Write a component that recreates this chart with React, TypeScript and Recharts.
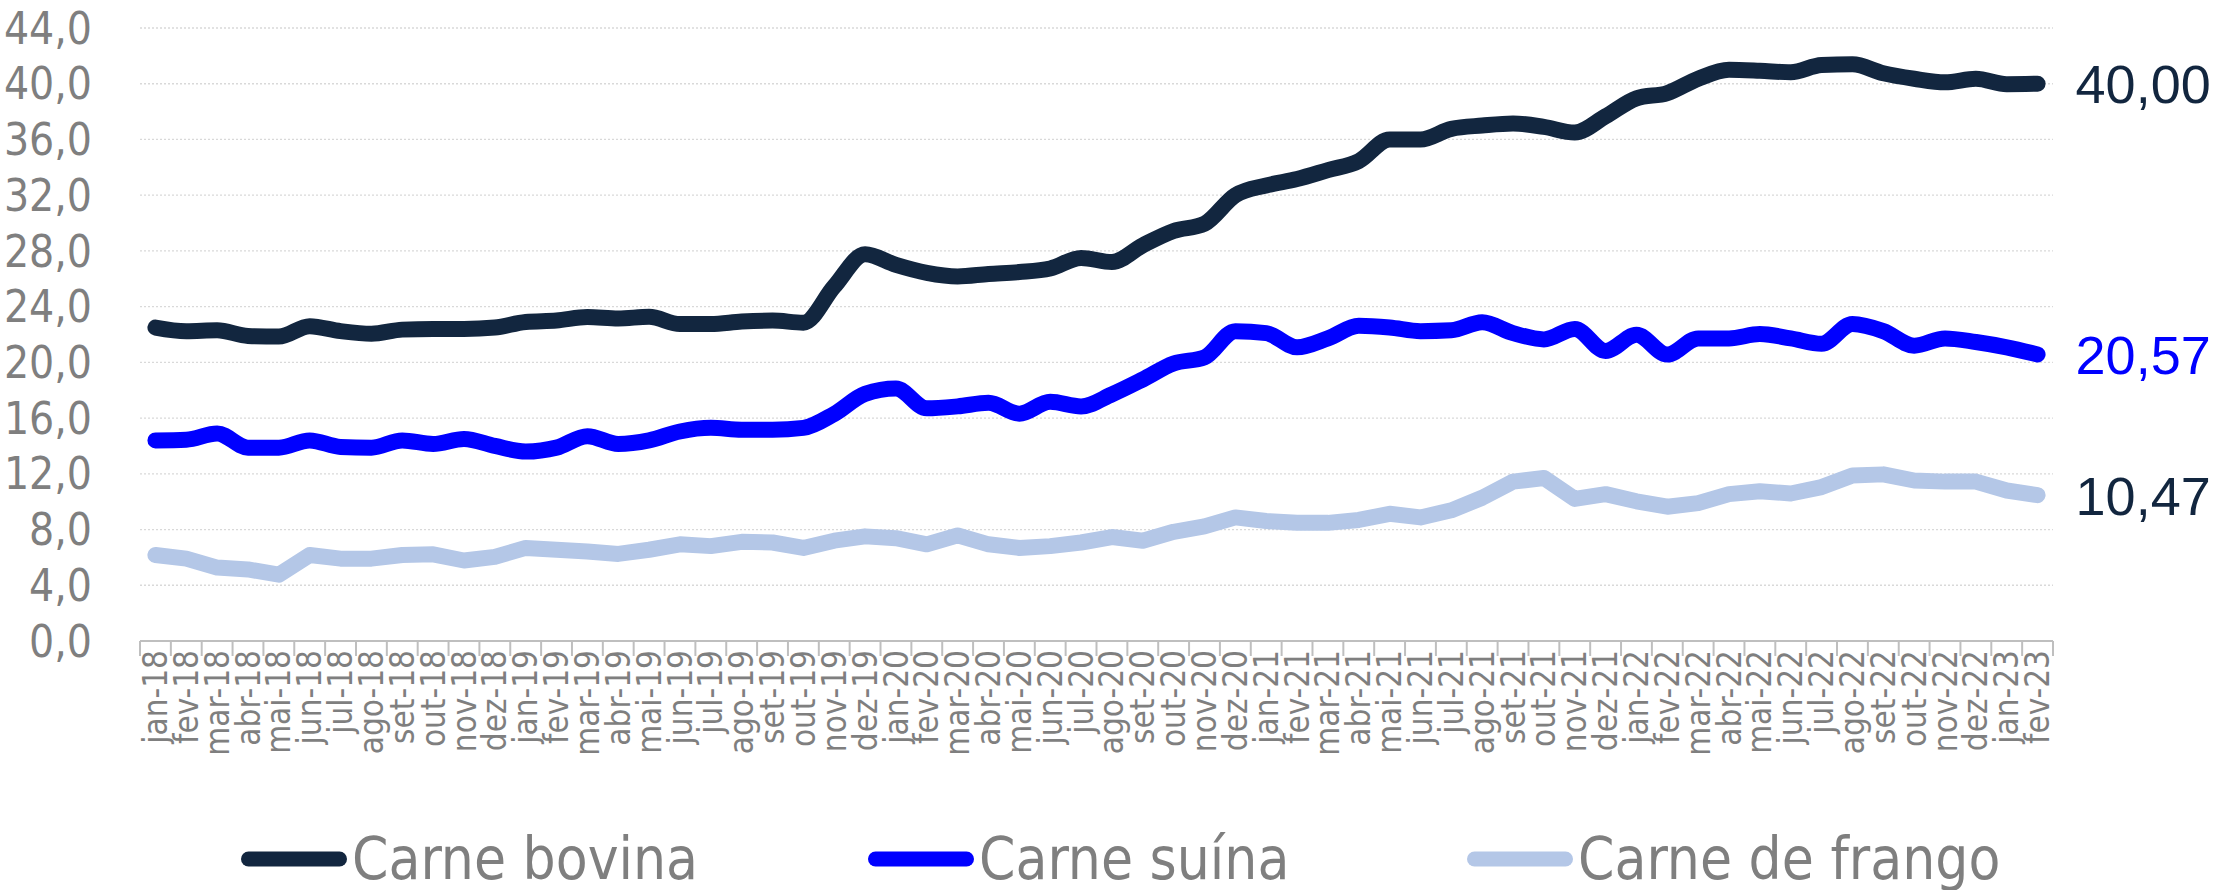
import React from 'react';
import { LineChart, Line, XAxis, YAxis, CartesianGrid, Legend, LabelList } from 'recharts';

const categories = [
  'jan-18','fev-18','mar-18','abr-18','mai-18','jun-18','jul-18','ago-18','set-18','out-18','nov-18','dez-18',
  'jan-19','fev-19','mar-19','abr-19','mai-19','jun-19','jul-19','ago-19','set-19','out-19','nov-19','dez-19',
  'jan-20','fev-20','mar-20','abr-20','mai-20','jun-20','jul-20','ago-20','set-20','out-20','nov-20','dez-20',
  'jan-21','fev-21','mar-21','abr-21','mai-21','jun-21','jul-21','ago-21','set-21','out-21','nov-21','dez-21',
  'jan-22','fev-22','mar-22','abr-22','mai-22','jun-22','jul-22','ago-22','set-22','out-22','nov-22','dez-22',
  'jan-23','fev-23',
];

const bovina = [
  22.5, 22.24, 22.3, 21.9, 21.85, 22.6, 22.24, 22.05, 22.35, 22.4, 22.4, 22.5,
  22.9, 23.0, 23.25, 23.15, 23.27, 22.75, 22.75, 22.93, 23.0, 22.85, 25.45, 27.76,
  27.0, 26.43, 26.17, 26.35, 26.48, 26.74, 27.5, 27.2, 28.4, 29.43, 29.95, 32.0,
  32.7, 33.16, 33.8, 34.45, 36.0, 36.0, 36.76, 37.0, 37.15, 36.9, 36.5, 37.66,
  38.95, 39.33, 40.36, 41.0, 40.93, 40.82, 41.34, 41.39, 40.75, 40.36, 40.1, 40.36,
  39.97, 40.0,
];

const suina = [
  14.4, 14.45, 14.9, 13.88, 13.88, 14.4, 13.93, 13.88, 14.4, 14.14, 14.5, 14.0,
  13.6, 13.88, 14.7, 14.14, 14.4, 15.04, 15.3, 15.17, 15.17, 15.3, 16.3, 17.74,
  18.12, 16.7, 16.84, 17.1, 16.32, 17.17, 16.84, 17.7, 18.77, 19.92, 20.36, 22.24,
  22.1, 21.08, 21.72, 22.62, 22.5, 22.24, 22.3, 22.88, 22.1, 21.65, 22.4, 20.82,
  21.98, 20.56, 21.72, 21.72, 22.03, 21.72, 21.34, 22.75, 22.24, 21.2, 21.72, 21.46,
  21.08, 20.57,
];

const frango = [
  6.17, 5.91, 5.27, 5.14, 4.76, 6.17, 5.91, 5.91, 6.17, 6.22, 5.78, 6.04,
  6.68, 6.55, 6.43, 6.25, 6.55, 6.94, 6.81, 7.12, 7.07, 6.68, 7.2, 7.51,
  7.38, 6.94, 7.58, 6.94, 6.68, 6.81, 7.07, 7.46, 7.2, 7.84, 8.23, 8.87,
  8.61, 8.48, 8.48, 8.69, 9.13, 8.87, 9.38, 10.28, 11.44, 11.7, 10.2, 10.54,
  10.03, 9.64, 9.9, 10.54, 10.75, 10.59, 11.05, 11.88, 11.96, 11.52, 11.44, 11.44,
  10.8, 10.47,
];

const yTicks = [0, 4, 8, 12, 16, 20, 24, 28, 32, 36, 40, 44];

const seriesNames = ['Carne bovina', 'Carne suína', 'Carne de frango'];
const seriesColors = ['#12263f', '#0000ff', '#b4c7e7'];
const endLabelColors = ['#12263f', '#0000ff', '#12263f'];

const data = categories.map((c, i) => ({
  cat: c,
  bovina: bovina[i],
  suina: suina[i],
  frango: frango[i],
}));

const W = 2223;
const H = 890;
const M_LEFT = 140;
const M_RIGHT = 170;
const PLOT_W = W - M_LEFT - M_RIGHT;
const STEP = PLOT_W / categories.length;
const LEGEND_H = 80;
const LINE_W = 16;

const NARROW = "'Liberation Sans Narrow', 'Arial Narrow', 'DejaVu Sans Condensed', sans-serif";
const GRAY = '#7f7f7f';

const legendIconLeft = [241, 868, 1467];

const XTick = (props: any) => {
  const { x, y, payload, index } = props;
  const last = index === categories.length - 1;
  return (
    <g>
      <line x1={x - STEP / 2} x2={x - STEP / 2} y1={y} y2={y + 15} stroke="#bfbfbf" strokeWidth={2} />
      {last && <line x1={x + STEP / 2} x2={x + STEP / 2} y1={y} y2={y + 15} stroke="#bfbfbf" strokeWidth={2} />}
      <g transform={`translate(${x},${y + 9})`}>
        <text transform="rotate(-90)" textAnchor="end" dy="0.35em" fill={GRAY} fontSize={33} fontFamily={NARROW}>
          {payload.value}
        </text>
      </g>
    </g>
  );
};

const makeEndLabel = (color: string) => (props: any) => {
  const { x, y, value, index } = props;
  if (index !== categories.length - 1) return null;
  return (
    <text x={x + 38} y={y} dy="0.36em" fill={color} fontSize={54} fontFamily="'Liberation Sans', Arial, sans-serif">
      {Number(value).toFixed(2).replace('.', ',')}
    </text>
  );
};

const LegendContent = () => (
  <div style={{ position: 'relative', width: W, height: LEGEND_H }}>
    {seriesNames.map((n, i) => (
      <div key={n} style={{ position: 'absolute', left: legendIconLeft[i], top: 0, height: LEGEND_H }}>
        <svg width={108} height={20} style={{ position: 'absolute', left: 0, top: 39 }}>
          <line x1={7.5} x2={98.5} y1={10} y2={10} stroke={seriesColors[i]} strokeWidth={15} strokeLinecap="round" />
        </svg>
        <span
          style={{
            position: 'absolute',
            left: 111,
            top: 20,
            whiteSpace: 'nowrap',
            fontFamily: NARROW,
            fontSize: 58,
            lineHeight: '58px',
            color: GRAY,
          }}
        >
          {n}
        </span>
      </div>
    ))}
  </div>
);

export default function App() {
  return (
    <div style={{ position: 'absolute', left: 0, top: 0, width: W, height: H, background: '#fff' }}>
      <style>{`body{margin:0;background:#fff}`}</style>
      <LineChart width={W} height={H} data={data} margin={{ top: 28, right: M_RIGHT, left: 0, bottom: 0 }}>
        <CartesianGrid vertical={false} stroke="#d9d9d9" strokeDasharray="2 2" strokeWidth={1.3} />
        <XAxis
          dataKey="cat"
          interval={0}
          height={249 - LEGEND_H}
          padding={{ left: STEP / 2, right: STEP / 2 }}
          axisLine={{ stroke: '#bfbfbf', strokeWidth: 2 }}
          tickLine={false}
          tickSize={0}
          tickMargin={0}
          tick={<XTick />}
        />
        <YAxis
          domain={[0, 44]}
          ticks={yTicks}
          interval={0}
          width={M_LEFT}
          axisLine={false}
          tickLine={false}
          tickSize={0}
          tickMargin={48}
          tickFormatter={(v: number) => v.toFixed(1).replace('.', ',')}
          tick={{ fill: GRAY, fontSize: 44, fontFamily: NARROW }}
        />
        <Legend
          verticalAlign="bottom"
          wrapperStyle={{ left: 0, bottom: 0, width: W, height: LEGEND_H }}
          content={<LegendContent />}
        />
        <Line dataKey="frango" name={seriesNames[2]} type="linear" stroke={seriesColors[2]} strokeWidth={LINE_W} strokeLinecap="round" strokeLinejoin="round" dot={false} activeDot={false} isAnimationActive={false}>
          <LabelList dataKey="frango" content={makeEndLabel(endLabelColors[2])} />
        </Line>
        <Line dataKey="suina" name={seriesNames[1]} type="monotone" stroke={seriesColors[1]} strokeWidth={LINE_W} strokeLinecap="round" strokeLinejoin="round" dot={false} activeDot={false} isAnimationActive={false}>
          <LabelList dataKey="suina" content={makeEndLabel(endLabelColors[1])} />
        </Line>
        <Line dataKey="bovina" name={seriesNames[0]} type="monotone" stroke={seriesColors[0]} strokeWidth={LINE_W} strokeLinecap="round" strokeLinejoin="round" dot={false} activeDot={false} isAnimationActive={false}>
          <LabelList dataKey="bovina" content={makeEndLabel(endLabelColors[0])} />
        </Line>
      </LineChart>
    </div>
  );
}
